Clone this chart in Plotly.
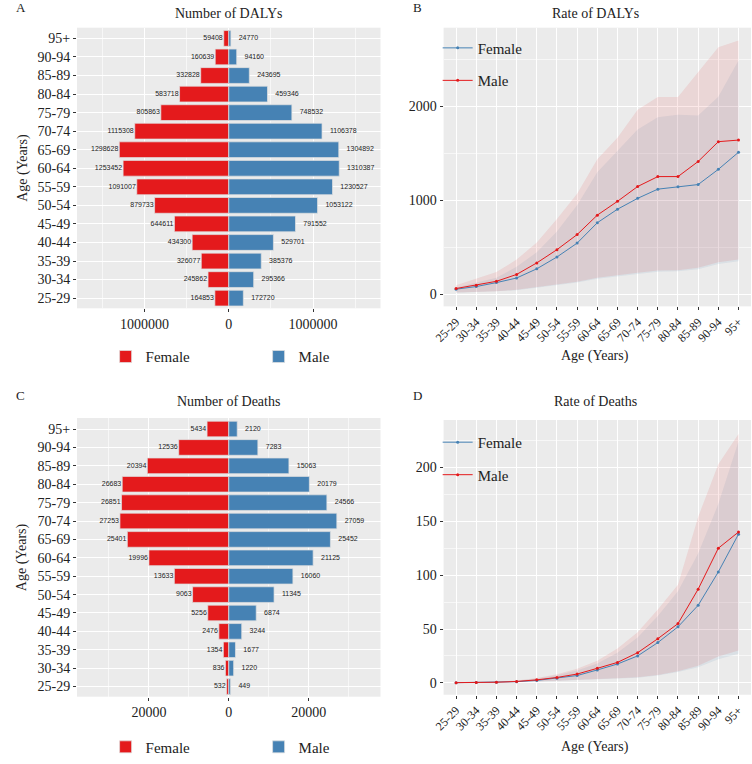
import plotly.graph_objects as go

ages = ["25-29", "30-34", "35-39", "40-44", "45-49", "50-54", "55-59", "60-64",
        "65-69", "70-74", "75-79", "80-84", "85-89", "90-94", "95+"]

dalys_female = [164853, 245862, 326077, 434300, 644611, 879733, 1091007, 1253452,
                1298628, 1115308, 805863, 583718, 332828, 160639, 59408]
dalys_male = [172720, 295366, 385376, 529701, 791552, 1053122, 1230527, 1310387,
              1304892, 1106378, 748532, 459346, 243695, 94160, 24770]

deaths_female = [532, 836, 1354, 2476, 5256, 9063, 13633, 19996, 25401, 27253,
                 26851, 26683, 20394, 12536, 5434]
deaths_male = [449, 1220, 1677, 3244, 6874, 11345, 16060, 21125, 25452, 27059,
               24566, 20179, 15063, 7283, 2120]

# Rate of DALYs (per 100,000) with uncertainty intervals
rdaly_female = [53, 81, 123, 172, 270, 396, 544, 761, 905, 1021, 1119, 1144, 1168, 1330, 1512]
rdaly_female_lo = [15, 22, 30, 42, 65, 95, 125, 165, 190, 215, 240, 245, 265, 320, 350]
rdaly_female_hi = [70, 123, 175, 291, 446, 667, 947, 1298, 1526, 1754, 1884, 1912, 1905, 2105, 2491]
rdaly_male = [60, 95, 137, 210, 333, 474, 635, 842, 989, 1147, 1253, 1253, 1414, 1625, 1642]
rdaly_male_lo = [18, 25, 32, 46, 70, 102, 133, 175, 200, 228, 253, 256, 281, 340, 368]
rdaly_male_hi = [95, 165, 235, 368, 551, 800, 1070, 1439, 1667, 1965, 2102, 2102, 2368, 2632, 2702]

# Rate of Deaths (per 100,000) with uncertainty intervals
rdeath_female = [0.2, 0.3, 0.5, 1.1, 2.3, 4.2, 6.8, 12, 17.5, 25, 37.4, 52, 72, 103, 138]
rdeath_female_lo = [0.1, 0.14, 0.28, 0.55, 1.1, 1.8, 2.7, 3.5, 4, 4.8, 6.8, 10, 14.5, 22, 27]
rdeath_female_hi = [0.35, 0.55, 1, 2, 4, 7, 11.5, 18, 28, 42, 62, 85, 120, 166, 224]
rdeath_male = [0.2, 0.3, 0.6, 1.3, 2.8, 5, 8.2, 13.5, 19, 28, 41, 55, 87, 125, 140]
rdeath_male_lo = [0.1, 0.15, 0.3, 0.6, 1.2, 2, 3, 3.8, 4.3, 5.2, 7.4, 10.7, 16, 24.5, 30]
rdeath_male_hi = [0.4, 0.6, 1.1, 2.2, 4.5, 8, 13, 20.5, 32, 47, 68, 91, 154, 203, 231]

RED = "#E41A1C"
BLUE = "#4682B4"
RED_BAND = "rgba(228,26,28,0.10)"
BLUE_BAND = "rgba(70,130,180,0.10)"
SERIF = "Liberation Serif"
SANS = "Liberation Sans"
TXT = "#222222"
W, H = 752, 764


def px_x(p):
    return p / W


def px_y(p):
    return 1 - p / H


fig = go.Figure()


def add_pyramid(fem, mal, xa, ya, legend, px_per_unit):
    fig.add_trace(go.Bar(y=ages, x=[-v for v in fem], orientation="h", name="Female",
                         marker=dict(color=RED, line=dict(color="rgba(225,225,225,0.9)", width=0.8)),
                         xaxis=xa, yaxis=ya, legend=legend, hoverinfo="skip"))
    fig.add_trace(go.Bar(y=ages, x=mal, orientation="h", name="Male",
                         marker=dict(color=BLUE, line=dict(color="rgba(225,225,225,0.9)", width=0.8)),
                         xaxis=xa, yaxis=ya, legend=legend, hoverinfo="skip"))
    off_l = 1.0 / px_per_unit
    off_r = 8.0 / px_per_unit
    fig.add_trace(go.Scatter(y=ages, x=[-v - off_l for v in fem], mode="text",
                             text=[str(v) for v in fem], textposition="middle left",
                             textfont=dict(family=SANS, size=7, color=TXT),
                             xaxis=xa, yaxis=ya, showlegend=False, hoverinfo="skip"))
    fig.add_trace(go.Scatter(y=ages, x=[v + off_r for v in mal], mode="text",
                             text=[str(v) for v in mal], textposition="middle right",
                             textfont=dict(family=SANS, size=7, color=TXT),
                             xaxis=xa, yaxis=ya, showlegend=False, hoverinfo="skip"))


def add_rates(f, flo, fhi, m, mlo, mhi, xa, ya, legend):
    fig.add_trace(go.Scatter(x=ages + ages[::-1], y=fhi + flo[::-1], fill="toself",
                             fillcolor=BLUE_BAND, line=dict(width=0), mode="lines",
                             xaxis=xa, yaxis=ya, showlegend=False, hoverinfo="skip"))
    fig.add_trace(go.Scatter(x=ages + ages[::-1], y=mhi + mlo[::-1], fill="toself",
                             fillcolor=RED_BAND, line=dict(width=0), mode="lines",
                             xaxis=xa, yaxis=ya, showlegend=False, hoverinfo="skip"))
    fig.add_trace(go.Scatter(x=ages, y=f, mode="lines+markers", name="Female",
                             line=dict(color=BLUE, width=1), marker=dict(color=BLUE, size=3),
                             xaxis=xa, yaxis=ya, legend=legend, legendgroup="f"))
    fig.add_trace(go.Scatter(x=ages, y=m, mode="lines+markers", name="Male",
                             line=dict(color=RED, width=1), marker=dict(color=RED, size=3),
                             xaxis=xa, yaxis=ya, legend=legend, legendgroup="m"))


add_pyramid(dalys_female, dalys_male, "x", "y", "legend3", 86 / 1e6)
add_rates(rdaly_female, rdaly_female_lo, rdaly_female_hi,
          rdaly_male, rdaly_male_lo, rdaly_male_hi, "x2", "y2", "legend")
add_pyramid(deaths_female, deaths_male, "x3", "y3", "legend4", 81 / 20000)
add_rates(rdeath_female, rdeath_female_lo, rdeath_female_hi,
          rdeath_male, rdeath_male_lo, rdeath_male_hi, "x4", "y4", "legend2")

grid = dict(showgrid=True, gridcolor="white", gridwidth=1, zeroline=False,
            ticks="outside", ticklen=3, tickcolor="#333333", showline=False)
minor_grid = dict(showgrid=True, gridcolor="rgba(255,255,255,0.6)", gridwidth=0.5, ticks="")

dA = [px_x(67), px_x(375)]
dB = [px_x(439), px_x(751)]
yA = [px_y(312), px_y(28)]
yB = [px_y(310), px_y(28)]
yC = [px_y(705), px_y(423)]
yD = [px_y(703), px_y(425)]

line_legend = dict(xanchor="left", yanchor="top", bgcolor="rgba(0,0,0,0)",
                   font=dict(family=SERIF, size=15, color=TXT),
                   traceorder="grouped", tracegroupgap=10, itemwidth=30)
bar_legend = dict(xanchor="left", yanchor="middle", orientation="h",
                  entrywidth=108, entrywidthmode="pixels", bgcolor="rgba(0,0,0,0)",
                  font=dict(family=SERIF, size=15, color=TXT))

fig.update_layout(
    width=W, height=H, margin=dict(l=0, r=0, t=0, b=0),
    paper_bgcolor="white", plot_bgcolor="#EBEBEB",
    barmode="overlay", bargap=0.15,
    showlegend=True,
    xaxis=dict(domain=dA, anchor="y", range=[-1.8e6, 1.8e6],
               tickvals=[-1e6, 0, 1e6], ticktext=["1000000", "0", "1000000"],
               tickfont=dict(family=SERIF, size=14, color=TXT),
               minor=dict(tickvals=[-1.5e6, -5e5, 5e5, 1.5e6], **minor_grid), **grid),
    yaxis=dict(domain=yA, anchor="x", type="category", categoryorder="array",
               categoryarray=ages, range=[-0.55, 14.58],
               tickfont=dict(family=SERIF, size=14, color=TXT), **grid),
    xaxis2=dict(domain=dB, anchor="y2", type="category", categoryorder="array",
                categoryarray=ages, range=[-0.62, 14.62], tickangle=-45,
                tickfont=dict(family=SERIF, size=12, color=TXT), **grid),
    yaxis2=dict(domain=yB, anchor="x2", range=[-130, 2840],
                tickvals=[0, 1000, 2000],
                tickfont=dict(family=SERIF, size=14, color=TXT),
                minor=dict(tickvals=[500, 1500, 2500], **minor_grid), **grid),
    xaxis3=dict(domain=dA, anchor="y3", range=[-38000, 38000],
                tickvals=[-20000, 0, 20000], ticktext=["20000", "0", "20000"],
                tickfont=dict(family=SERIF, size=14, color=TXT),
                minor=dict(tickvals=[-30000, -10000, 10000, 30000], **minor_grid), **grid),
    yaxis3=dict(domain=yC, anchor="x3", type="category", categoryorder="array",
                categoryarray=ages, range=[-0.55, 14.6],
                tickfont=dict(family=SERIF, size=14, color=TXT), **grid),
    xaxis4=dict(domain=dB, anchor="y4", type="category", categoryorder="array",
                categoryarray=ages, range=[-0.62, 14.62], tickangle=-45,
                tickfont=dict(family=SERIF, size=12, color=TXT), **grid),
    yaxis4=dict(domain=yD, anchor="x4", range=[-11, 244],
                tickvals=[0, 50, 100, 150, 200],
                tickfont=dict(family=SERIF, size=14, color=TXT),
                minor=dict(tickvals=[25, 75, 125, 175, 225], **minor_grid), **grid),
    legend=dict(x=px_x(433), y=px_y(32), **line_legend),
    legend2=dict(x=px_x(433), y=px_y(431), **line_legend),
    legend3=dict(x=px_x(96), y=px_y(361), **bar_legend),
    legend4=dict(x=px_x(96), y=px_y(756), **bar_legend),
)

ann = []


def add_text(text, x, y, size, angle=0, xanchor="center"):
    ann.append(dict(text=text, x=px_x(x), y=px_y(y), xref="paper", yref="paper",
                    showarrow=False, xanchor=xanchor, yanchor="middle", textangle=angle,
                    font=dict(family=SERIF, size=size, color=TXT)))


add_text("A", 3, 8, 13, xanchor="left")
add_text("B", 406, 8, 13, xanchor="left")
add_text("C", 3, 400, 13, xanchor="left")
add_text("D", 406, 400, 13, xanchor="left")
add_text("Number of DALYs", 221, 14, 14)
add_text("Rate of DALYs", 593, 14, 14)
add_text("Number of Deaths", 221, 406, 14)
add_text("Rate of Deaths", 593, 406, 14)
add_text("Age (Years)", 12, 170, 14, angle=-90)
add_text("Age (Years)", 12, 564, 14, angle=-90)
add_text("Age (Years)", 593, 360, 14)
add_text("Age (Years)", 593, 756, 14)
fig.update_layout(annotations=ann)

fig.write_html("out.html")
